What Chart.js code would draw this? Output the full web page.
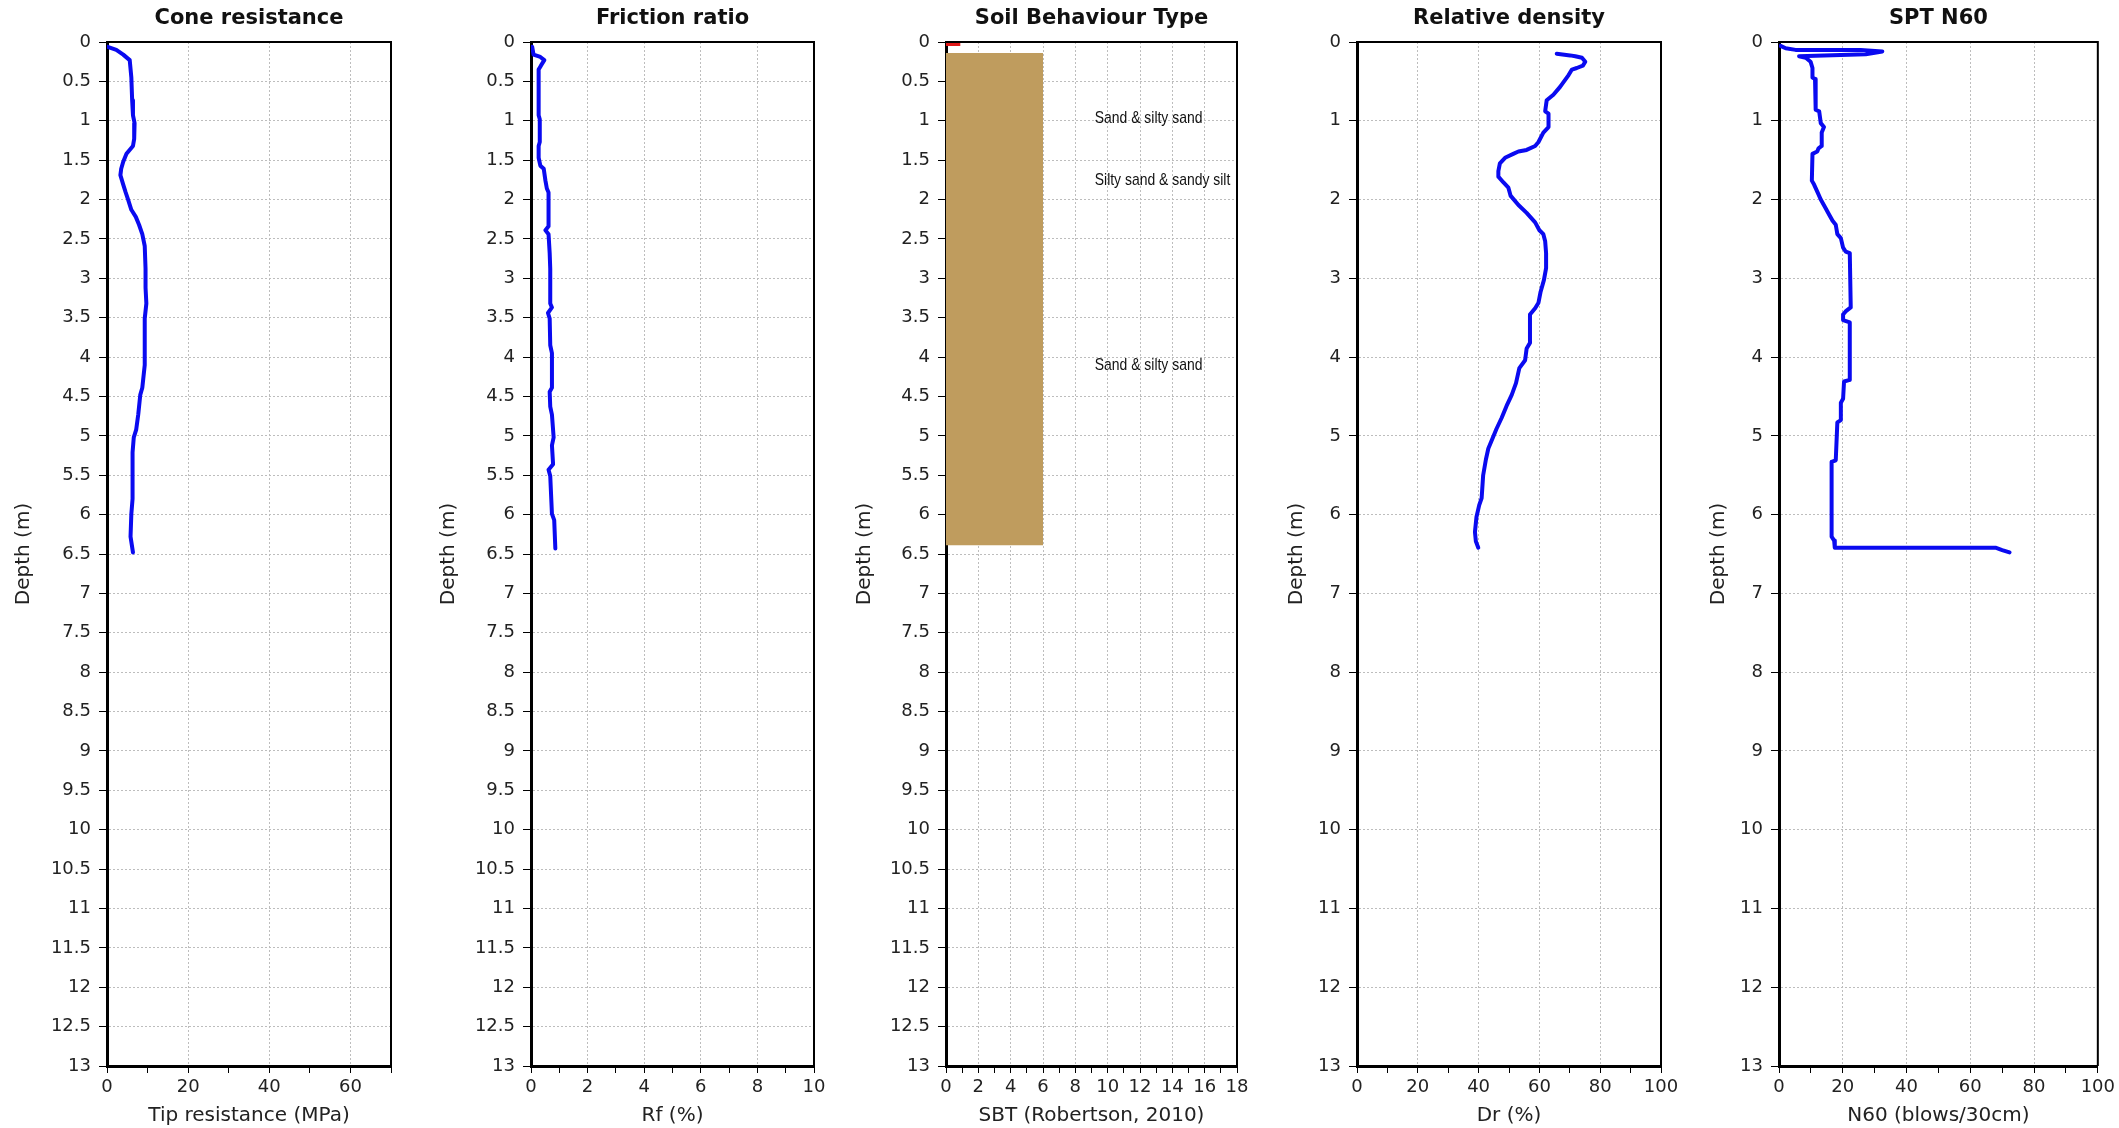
<!DOCTYPE html>
<html>
<head>
<meta charset="utf-8">
<title>CPT log</title>
<script src="https://cdn.jsdelivr.net/npm/chart.js@4.4.1/dist/chart.umd.min.js"></script>
<style>
  html, body { margin: 0; padding: 0; background: #fff; }
  body { width: 2119px; height: 1128px; position: relative; overflow: hidden; }
  canvas { position: absolute; top: 0; }
</style>
</head>
<body>
<canvas id="cone"></canvas>
<canvas id="friction"></canvas>
<canvas id="sbt"></canvas>
<canvas id="density"></canvas>
<canvas id="spt"></canvas>
<script>
// cone resistance qc (MPa) vs depth (m)
const coneDepth = [0.06, 0.10, 0.16, 0.23, 0.45, 0.74, 0.93, 1.03, 1.23, 1.32, 1.42, 1.52, 1.61, 1.69, 1.81, 1.91, 2.00, 2.13, 2.22, 2.32, 2.44, 2.59, 2.88, 3.12, 3.32, 3.51, 4.10, 4.39, 4.48, 4.73, 4.92, 5.02, 5.21, 5.80, 5.99, 6.28, 6.48];
const coneQc = [0.0, 2.3, 4.0, 5.6, 6.0, 6.2, 6.4, 6.8, 6.7, 6.4, 4.8, 4.0, 3.5, 3.3, 4.0, 4.6, 5.2, 6.0, 7.1, 7.9, 8.7, 9.3, 9.5, 9.5, 9.7, 9.3, 9.3, 8.7, 8.2, 7.7, 7.2, 6.6, 6.3, 6.3, 6.0, 5.8, 6.4];

// friction ratio Rf (%)
const frDepth = [0.06, 0.16, 0.19, 0.23, 0.30, 0.35, 0.93, 0.98, 1.27, 1.32, 1.47, 1.57, 1.61, 1.76, 1.86, 1.91, 2.34, 2.39, 2.44, 2.68, 2.88, 3.32, 3.37, 3.44, 3.51, 3.85, 3.95, 4.39, 4.44, 4.63, 4.73, 5.02, 5.12, 5.36, 5.43, 5.51, 5.99, 6.07, 6.43];
const frRf = [0.04, 0.09, 0.33, 0.47, 0.35, 0.27, 0.27, 0.31, 0.31, 0.27, 0.27, 0.33, 0.45, 0.51, 0.56, 0.62, 0.62, 0.51, 0.62, 0.66, 0.68, 0.68, 0.74, 0.60, 0.66, 0.68, 0.74, 0.74, 0.66, 0.68, 0.74, 0.80, 0.74, 0.78, 0.62, 0.68, 0.74, 0.82, 0.86];

// soil behaviour type layers
const sbtTop = [0.0, 0.14];
const sbtBottom = [0.05, 6.39];
const sbtZone = [0.9, 6];
const sbtColors = ['#e01818', '#bf9c5e'];
const sbtLabelText = ['Sand & silty sand', 'Silty sand & sandy silt', 'Sand & silty sand'];
const sbtLabelDepth = [0.97, 1.75, 4.1];
const sbtLabelX = 9.2;

// relative density Dr (%)
const drDepth = [0.15, 0.17, 0.18, 0.20, 0.25, 0.30, 0.33, 0.35, 0.42, 0.57, 0.67, 0.74, 0.88, 0.91, 1.08, 1.15, 1.27, 1.32, 1.37, 1.39, 1.42, 1.47, 1.54, 1.64, 1.71, 1.78, 1.85, 1.95, 2.07, 2.17, 2.29, 2.39, 2.44, 2.53, 2.68, 2.87, 3.02, 3.17, 3.31, 3.38, 3.46, 3.82, 3.89, 4.04, 4.14, 4.33, 4.48, 4.62, 4.77, 4.91, 5.06, 5.16, 5.30, 5.50, 5.79, 5.88, 6.03, 6.22, 6.34, 6.42];
const drVal = [65.7, 70.1, 71.8, 74.0, 75.1, 74.3, 72.3, 70.7, 69.6, 66.8, 64.6, 62.4, 61.9, 63.0, 63.0, 61.3, 59.7, 58.6, 55.8, 53.1, 51.4, 48.7, 47.0, 46.5, 46.5, 48.1, 49.8, 50.5, 53.1, 55.8, 58.6, 60.0, 61.3, 61.9, 62.2, 62.2, 61.5, 60.4, 59.7, 58.6, 56.9, 56.9, 55.8, 55.3, 53.4, 52.3, 50.9, 49.2, 47.6, 45.9, 44.3, 43.2, 42.4, 41.5, 41.0, 40.2, 39.3, 38.8, 39.1, 39.9];

// SPT N60 (blows/30cm)
const sptDepth = [0.05, 0.08, 0.10, 0.10, 0.12, 0.155, 0.18, 0.20, 0.25, 0.33, 0.45, 0.47, 0.86, 0.88, 1.03, 1.08, 1.15, 1.32, 1.35, 1.39, 1.42, 1.76, 1.81, 1.90, 2.00, 2.10, 2.19, 2.27, 2.32, 2.44, 2.49, 2.61, 2.66, 2.68, 3.37, 3.42, 3.46, 3.53, 3.56, 4.29, 4.31, 4.53, 4.58, 4.80, 4.83, 5.31, 5.33, 6.28, 6.33, 6.42, 6.42, 6.45, 6.48];
const sptN = [0.5, 2.1, 5.2, 25.6, 32.4, 27.2, 6.3, 8.4, 9.9, 10.5, 10.5, 11.3, 11.5, 12.6, 13.1, 14.1, 13.4, 13.4, 12.4, 12.0, 10.5, 10.3, 11.0, 12.0, 13.1, 14.5, 15.7, 16.8, 17.8, 18.3, 19.4, 20.1, 20.9, 22.2, 22.5, 20.9, 20.1, 20.1, 22.2, 22.2, 20.4, 20.1, 19.4, 19.4, 18.3, 17.8, 16.5, 16.5, 17.3, 17.5, 67.9, 70.0, 72.3];

const FONT = "'DejaVu Sans', Verdana, sans-serif";
Chart.defaults.font.family = FONT;
Chart.defaults.color = '#1a1a1a';

const H = 1128;
const PLOT_BOTTOM = 1066;
const BLUE = '#0a0af0';
const GRID = '#bdbdbd';

const pts = (xs, ys) => xs.map((x, i) => ({ x: x, y: ys[i] }));
const fmt = v => String(Number(v.toFixed(2)));

function profile(xs, ys) {
  return {
    data: pts(xs, ys),
    showLine: true,
    borderColor: BLUE,
    borderWidth: 4,
    pointRadius: 0,
    tension: 0,
    borderJoinStyle: 'round',
    borderCapStyle: 'round'
  };
}

// top and right edges of the plot box
const frame = {
  id: 'frame',
  afterDraw(chart) {
    const { ctx, chartArea: a } = chart;
    ctx.save();
    ctx.strokeStyle = '#000';
    ctx.lineWidth = 2;
    ctx.beginPath();
    ctx.moveTo(a.left, a.top);
    ctx.lineTo(a.right, a.top);
    ctx.lineTo(a.right, a.bottom);
    ctx.stroke();
    ctx.restore();
  }
};

const sbtText = {
  id: 'sbtText',
  afterDatasetsDraw(chart) {
    const { ctx, scales: { x, y } } = chart;
    ctx.save();
    ctx.font = "17px 'Liberation Sans', Arial, sans-serif";
    ctx.fillStyle = '#111';
    ctx.textAlign = 'left';
    ctx.textBaseline = 'middle';
    sbtLabelText.forEach((t, i) => {
      const w = ctx.measureText(t).width * 0.82;
      ctx.fillText(t, x.getPixelForValue(sbtLabelX), y.getPixelForValue(sbtLabelDepth[i]), w);
    });
    ctx.restore();
  }
};

function panel(id, p) {
  const canvas = document.getElementById(id);
  const left = p.yTitleX - 16;
  const yW = p.plotL - left;
  canvas.width = yW + (p.plotR - p.plotL) + p.padR;
  canvas.height = H;
  canvas.style.left = left + 'px';

  const isMajor = v => Math.abs(v / p.xLabelStep - Math.round(v / p.xLabelStep)) < 1e-6;

  return new Chart(canvas, {
    type: 'scatter',
    data: { datasets: p.datasets },
    options: {
      responsive: false,
      animation: false,
      layout: { padding: { left: 0, right: p.padR, top: 0, bottom: 0 } },
      plugins: {
        legend: { display: false },
        tooltip: { enabled: false },
        title: {
          display: true,
          text: p.title,
          fullSize: false,
          color: '#111',
          font: { size: 21, weight: 'bold' },
          padding: { top: 6, bottom: 10.8 }
        }
      },
      scales: {
        x: {
          type: 'linear',
          min: 0,
          max: p.xMax,
          afterFit: s => { s.height = H - PLOT_BOTTOM; },
          ticks: {
            stepSize: p.xStep,
            autoSkip: false,
            maxRotation: 0,
            padding: 4,
            color: '#222',
            font: { size: 18 },
            callback: v => (isMajor(v) ? fmt(v) : '')
          },
          grid: {
            color: c => (c.tick && isMajor(c.tick.value) ? GRID : 'rgba(0,0,0,0)'),
            tickColor: '#000',
            tickLength: 7
          },
          border: { color: '#000', width: 3, dash: [2, 2] },
          title: {
            display: true,
            text: p.xTitle,
            color: '#222',
            font: { size: 20 },
            padding: { top: 0, bottom: 0 }
          }
        },
        y: {
          type: 'linear',
          reverse: true,
          min: 0,
          max: 13,
          afterFit: s => { s.width = yW; },
          ticks: {
            stepSize: p.yStep,
            autoSkip: false,
            padding: 8,
            color: '#222',
            font: { size: 18 },
            callback: v => fmt(v)
          },
          grid: { color: GRID, tickColor: '#000', tickLength: 8 },
          border: { color: '#000', width: 3, dash: [2, 2] },
          title: {
            display: true,
            text: 'Depth (m)',
            color: '#222',
            font: { size: 20 },
            padding: { top: 4, bottom: 0 }
          }
        }
      }
    },
    plugins: [frame].concat(p.plugins || [])
  });
}

panel('cone', {
  plotL: 107, plotR: 391, yTitleX: 24, padR: 22,
  xMax: 70, xStep: 10, xLabelStep: 20, yStep: 0.5,
  title: 'Cone resistance', xTitle: 'Tip resistance (MPa)',
  datasets: [profile(coneQc, coneDepth)]
});

panel('friction', {
  plotL: 531, plotR: 814, yTitleX: 449, padR: 22,
  xMax: 10, xStep: 1, xLabelStep: 2, yStep: 0.5,
  title: 'Friction ratio', xTitle: 'Rf (%)',
  datasets: [profile(frRf, frDepth)]
});

panel('sbt', {
  plotL: 946, plotR: 1237, yTitleX: 865, padR: 22,
  xMax: 18, xStep: 1, xLabelStep: 2, yStep: 0.5,
  title: 'Soil Behaviour Type', xTitle: 'SBT (Robertson, 2010)',
  datasets: sbtZone.map((z, i) => ({
    data: [{ x: 0, y: sbtTop[i] }, { x: z, y: sbtTop[i] }],
    showLine: true,
    borderWidth: 0,
    borderColor: 'rgba(0,0,0,0)',
    backgroundColor: sbtColors[i],
    pointRadius: 0,
    fill: { value: sbtBottom[i] }
  })),
  plugins: [sbtText]
});

panel('density', {
  plotL: 1357, plotR: 1661, yTitleX: 1297, padR: 22,
  xMax: 100, xStep: 10, xLabelStep: 20, yStep: 1,
  title: 'Relative density', xTitle: 'Dr (%)',
  datasets: [profile(drVal, drDepth)]
});

panel('spt', {
  plotL: 1779, plotR: 2098, yTitleX: 1719, padR: 21,
  xMax: 100, xStep: 10, xLabelStep: 20, yStep: 1,
  title: 'SPT N60', xTitle: 'N60 (blows/30cm)',
  datasets: [profile(sptN, sptDepth)]
});
</script>
</body>
</html>
